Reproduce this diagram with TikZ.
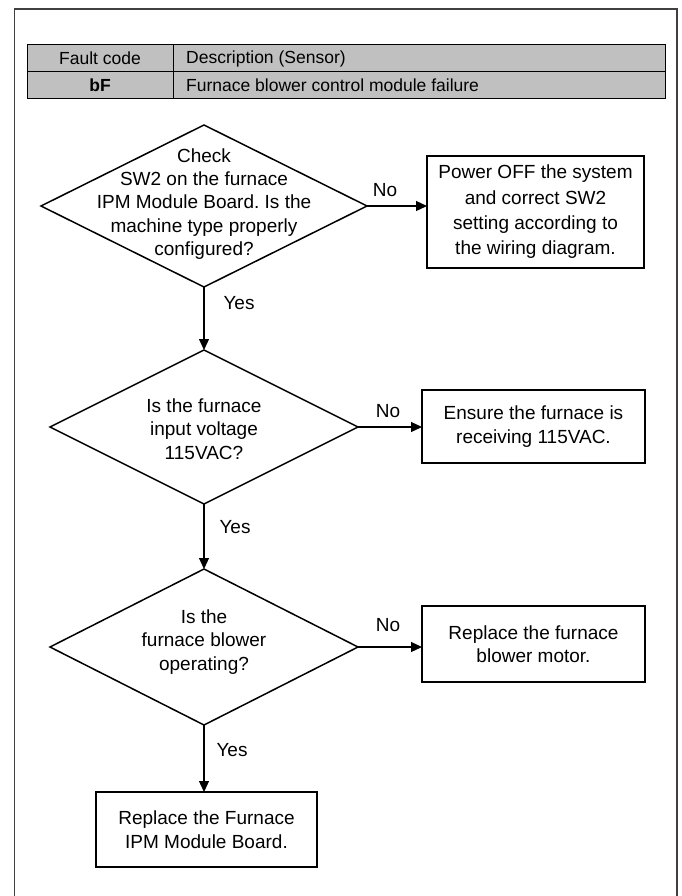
\documentclass[tikz,border=0pt]{standalone}
\usepackage{fontspec}
\setmainfont{Liberation Sans}
\frenchspacing
\usetikzlibrary{shapes.geometric,arrows.meta}
\definecolor{tabgray}{HTML}{C0C0C0}
\definecolor{framegray}{HTML}{404040}
\begin{document}
\begin{tikzpicture}[x=1pt,y=-1pt,
  dia/.style={diamond,draw,line width=1.5pt,inner sep=0pt,outer sep=0pt},
  diatext/.style={align=center,font=\fontsize{19}{23.3}\selectfont,inner sep=0pt},
  procbox/.style={draw,line width=1.8pt,inner sep=0pt,outer sep=0pt,align=center,
    font=\fontsize{19}{23.5}\selectfont},
  lbl/.style={font=\fontsize{19}{23}\selectfont,inner sep=0pt},
  arr/.style={line width=1.2pt,-{Triangle[length=11pt,width=10pt]}},
  tabtext/.style={font=\fontsize{17.5}{20}\selectfont,inner sep=0pt}
]
\useasboundingbox (0,0) rectangle (681,896);
% frame
\draw[framegray,line width=1.3pt] (14.5,896) -- (14.5,9) -- (677,9) -- (677,896);
% table
\fill[tabgray] (27,45) rectangle (665,99);
\draw[line width=1pt] (27,45) rectangle (665,99);
\draw[line width=1pt] (27,72) -- (665,72);
\draw[line width=1pt] (173,45) -- (173,99);
\node[tabtext] (th1) at (100,58.5) {Fault code};
\node[tabtext,anchor=west] (th2) at (186,58.5) {Description (Sensor)};
\node[tabtext,font=\fontsize{17.5}{20}\selectfont\bfseries] (tc1) at (100,85.5) {bF};
\node[tabtext,anchor=west] (tc2) at (186,85.5) {Furnace blower control module failure};
% decisions
\node[dia,minimum width=326pt,minimum height=162pt] (d1) at (204,206) {};
\node[diatext] (t1) at (204,204) {Check\\SW2 on the furnace\\IPM Module Board. Is the\\machine type properly\\configured?};
\node[dia,minimum width=308pt,minimum height=154pt] (d2) at (204,427) {};
\node[diatext] (t2) at (204,429) {Is the furnace\\input voltage\\115VAC?};
\node[dia,minimum width=308pt,minimum height=156pt] (d3) at (204,647) {};
\node[diatext] (t3) at (204,642) {Is the\\furnace blower\\operating?};
% boxes
\node[procbox,minimum width=217pt,minimum height=112pt,font=\fontsize{19}{25.3}\selectfont] (b1) at (535.5,212) {Power OFF the system\\and correct SW2\\setting according to\\the wiring diagram.};
\node[procbox,minimum width=223pt,minimum height=73pt] (b2) at (533.5,426.5) {Ensure the furnace is\\receiving 115VAC.};
\node[procbox,minimum width=223pt,minimum height=76pt] (b3) at (533.5,644) {Replace the furnace\\blower motor.};
\node[procbox,minimum width=221pt,minimum height=75pt] (b4) at (206.5,829.5) {Replace the Furnace\\IPM Module Board.};
% connectors
\draw[arr] (d1.east) -- (d1.east -| b1.west);
\draw[arr] (d2.east) -- (d2.east -| b2.west);
\draw[arr] (d3.east) -- (d3.east -| b3.west);
\draw[arr] (d1.south) -- (d2.north);
\draw[arr] (d2.south) -- (d3.north);
\draw[arr] (d3.south) -- (d3.south |- b4.north);
% labels
\node[lbl] (n1) at (385,190) {No};
\node[lbl] (n2) at (388,411) {No};
\node[lbl] (n3) at (388,625) {No};
\node[lbl] (y1) at (239,303) {Yes};
\node[lbl] (y2) at (235,527) {Yes};
\node[lbl] (y3) at (232,750) {Yes};
\end{tikzpicture}
\end{document}
